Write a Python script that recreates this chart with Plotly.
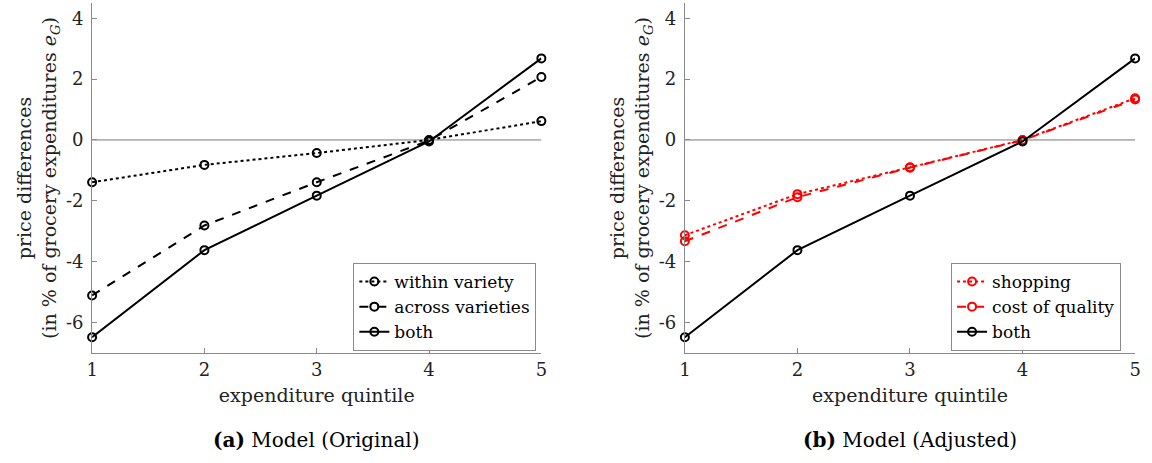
import plotly.graph_objects as go
from plotly.subplots import make_subplots

# Expenditure quintiles
quintiles = [1, 2, 3, 4, 5]

# Panel (a): model, original decomposition
within_variety = [-1.39, -0.82, -0.43, 0.0, 0.62]
across_varieties = [-5.11, -2.81, -1.39, -0.02, 2.07]
both_original = [-6.48, -3.62, -1.83, -0.05, 2.68]

# Panel (b): model, adjusted decomposition
shopping = [-3.13, -1.78, -0.90, 0.0, 1.37]
cost_of_quality = [-3.33, -1.88, -0.91, -0.01, 1.33]
both_adjusted = [-6.48, -3.62, -1.83, -0.05, 2.68]

y_ticks = [-6, -4, -2, 0, 2, 4]
y_tick_labels = ["-6", "-4", "-2", "0", "2", "4"]
x_ticks = [1, 2, 3, 4, 5]

FONT = "DejaVu Serif, serif"
AXIS_GREY = "#8a8a8a"
W, H = 1152, 463

fig = make_subplots(rows=1, cols=2)

# thin zero reference line in each panel, drawn first so it sits underneath
for col in (1, 2):
    fig.add_trace(go.Scatter(
        x=[quintiles[0], quintiles[-1]], y=[0, 0], mode="lines",
        line=dict(color="#777777", width=1), showlegend=False,
        hoverinfo="skip"), row=1, col=col)


def add_series(y, name, color, dash, col, legend):
    fig.add_trace(go.Scatter(
        x=quintiles, y=y, name=name, mode="lines+markers",
        line=dict(color=color, width=2, dash=dash),
        marker=dict(symbol="circle-open", size=8, color=color,
                    line=dict(width=2, color=color)),
        legend=legend, cliponaxis=False,
    ), row=1, col=col)


add_series(within_variety, "within variety", "black", "dot", 1, "legend")
add_series(across_varieties, "across varieties", "black", "dash", 1, "legend")
add_series(both_original, "both", "black", "solid", 1, "legend")

add_series(shopping, "shopping", "#ff0000", "dot", 2, "legend2")
add_series(cost_of_quality, "cost of quality", "#ff0000", "dash", 2, "legend2")
add_series(both_adjusted, "both", "black", "solid", 2, "legend2")

ytitle = ("price differences<br>(in % of grocery expenditures "
          "<i>e</i><sub><i>G</i></sub>)")

axis_common = dict(showline=True, linecolor=AXIS_GREY, linewidth=1,
                   mirror=False, showgrid=False, zeroline=False,
                   ticks="inside", ticklen=5, tickcolor=AXIS_GREY,
                   tickfont=dict(family=FONT, size=18, color="#222222"))

x_domains = [(87 / W, 541 / W), (686 / W, 1141 / W)]
y_domain = (1 - 353 / H, 1 - 3 / H)

for i, dom in enumerate(x_domains, start=1):
    xa = "xaxis" if i == 1 else f"xaxis{i}"
    ya = "yaxis" if i == 1 else f"yaxis{i}"
    fig.layout[xa].update(
        domain=list(dom), range=[1, 5], tickvals=x_ticks,
        title=dict(text="expenditure quintile", standoff=10,
                   font=dict(family=FONT, size=19, color="#222222")),
        **axis_common)
    fig.layout[ya].update(
        domain=list(y_domain), range=[-7, 4.5], tickvals=y_ticks,
        ticktext=y_tick_labels, ticklabelstandoff=4,
        title=dict(text=ytitle, standoff=4,
                   font=dict(family=FONT, size=19, color="#222222")),
        **axis_common)

legend_common = dict(bgcolor="white", bordercolor="#8a8a8a", borderwidth=1,
                     font=dict(family=FONT, size=17, color="black"),
                     xanchor="left", yanchor="top", tracegroupgap=0,
                     itemwidth=30)

fig.update_layout(
    width=W, height=H,
    margin=dict(l=0, r=0, t=0, b=0),
    plot_bgcolor="white", paper_bgcolor="white",
    font=dict(family=FONT, color="black"),
    legend=dict(x=351 / W, y=1 - 263 / H, **legend_common),
    legend2=dict(x=955 / W, y=1 - 263 / H, **legend_common),
    annotations=[
        dict(text="<b>(a)</b> Model (Original)", x=(87 + 541) / 2 / W,
             y=1 - 440 / H, xref="paper", yref="paper", showarrow=False,
             xanchor="center", yanchor="middle",
             font=dict(family=FONT, size=20, color="black")),
        dict(text="<b>(b)</b> Model (Adjusted)", x=(686 + 1141) / 2 / W,
             y=1 - 440 / H, xref="paper", yref="paper", showarrow=False,
             xanchor="center", yanchor="middle",
             font=dict(family=FONT, size=20, color="black")),
    ],
)

fig.write_html("out.html")
